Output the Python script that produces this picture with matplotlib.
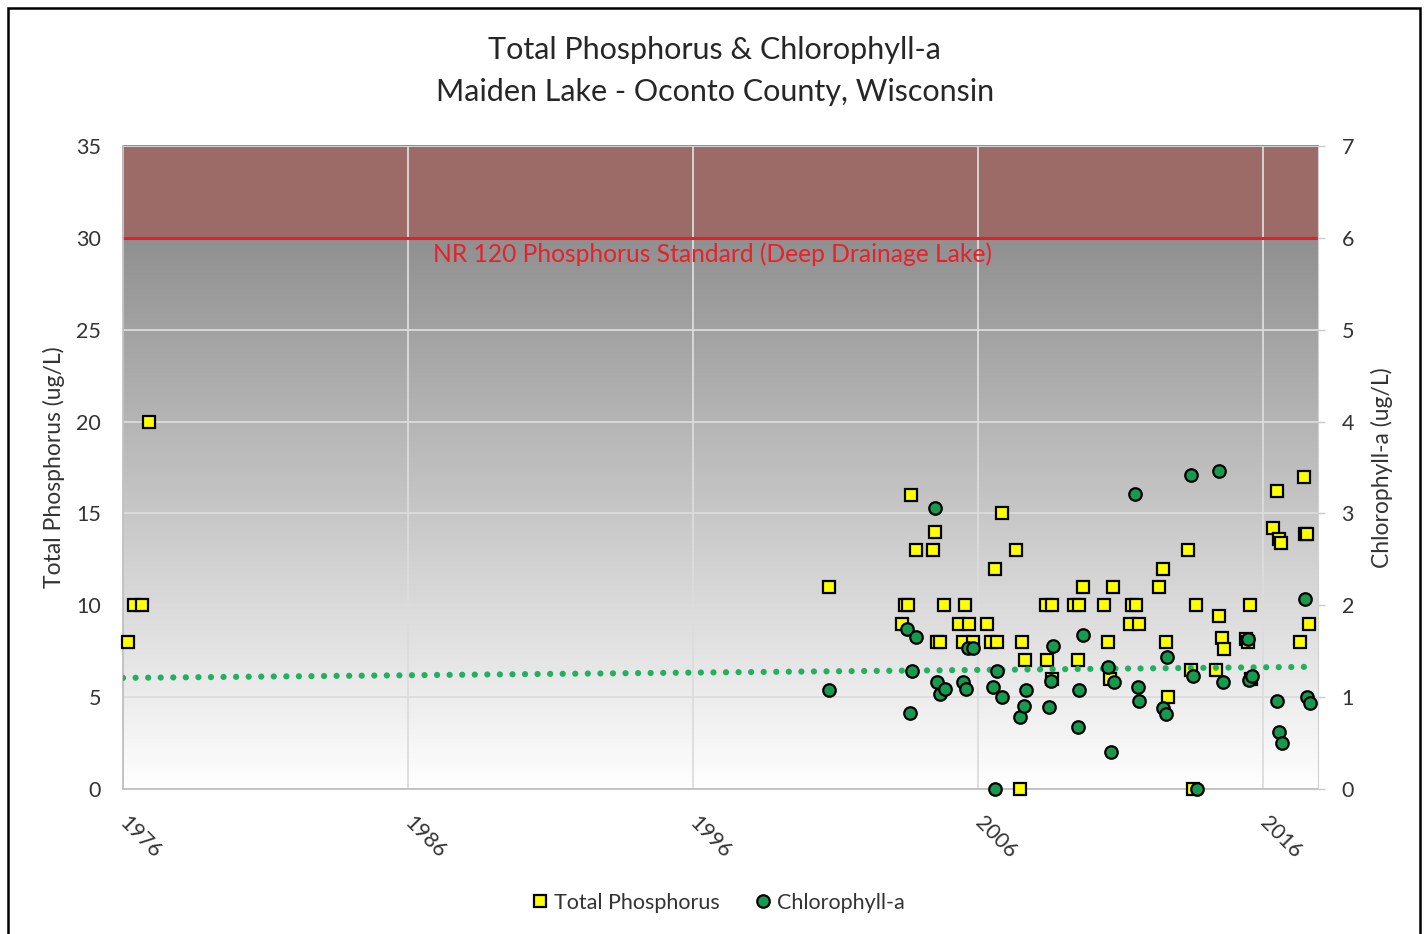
import matplotlib.pyplot as plt
import numpy as np
from matplotlib.colors import LinearSegmentedColormap
from matplotlib.lines import Line2D
from matplotlib.patches import Rectangle

plt.rcParams['font.family'] = ['Lato', 'DejaVu Sans']

# Total phosphorus samples (decimal year, ug/L)
tp_years = [1976.18, 1976.39, 1976.67, 1976.91, 2000.77,
            2003.35, 2003.44, 2003.55, 2003.66, 2003.82, 2004.41, 2004.49, 2004.56, 2004.67, 2004.80,
            2005.34, 2005.46, 2005.56, 2005.69, 2005.82, 2006.32, 2006.47, 2006.58, 2006.67, 2006.84,
            2007.33, 2007.49, 2007.55, 2007.66, 2008.40, 2008.41, 2008.58, 2008.60, 2009.37, 2009.52,
            2009.55, 2009.67, 2010.42, 2010.55, 2010.63, 2010.75, 2011.33, 2011.42, 2011.56, 2011.65,
            2012.35, 2012.50, 2012.60, 2012.66, 2013.38, 2013.47, 2013.53, 2013.65, 2014.35, 2014.47,
            2014.55, 2014.63, 2015.42, 2015.47, 2015.54, 2015.58, 2016.34, 2016.48, 2016.55, 2016.62,
            2017.30, 2017.45, 2017.48, 2017.55, 2017.62]
tp_values = [8, 10, 10, 20, 11,
             9, 10, 10, 16, 13, 13, 14, 8, 8, 10,
             9, 8, 10, 9, 8, 9, 8, 12, 8, 15,
             13, 0, 8, 7, 10, 7, 6, 10, 10, 7,
             10, 11, 10, 8, 6, 11, 9, 10, 10, 9,
             11, 12, 8, 5, 13, 6.5, 0, 10, 6.5, 9.4,
             8.2, 7.6, 8.15, 8.0, 10, 6, 14.2, 16.2, 13.6, 13.4,
             8, 17, 13.9, 13.9, 9]

# Chlorophyll-a samples (decimal year, ug/L)
chl_years = [2000.77, 2003.50, 2003.60, 2003.67, 2003.84, 2004.49, 2004.57, 2004.67, 2004.84,
             2005.48, 2005.58, 2005.66, 2005.84, 2006.53, 2006.60, 2006.68, 2006.85, 2007.49,
             2007.60, 2007.67, 2008.49, 2008.55, 2008.64, 2009.52, 2009.54, 2009.67, 2010.57,
             2010.65, 2010.78, 2011.51, 2011.60, 2011.65, 2012.48, 2012.60, 2012.64, 2013.47,
             2013.55, 2013.67, 2014.47, 2014.60, 2015.46, 2015.50, 2015.60, 2016.50, 2016.57,
             2016.66, 2017.47, 2017.55, 2017.65]
chl_values = [1.08, 1.74, 0.83, 1.29, 1.65, 3.06, 1.16, 1.03, 1.09,
              1.16, 1.09, 1.53, 1.54, 1.11, 0.0, 1.28, 1.00, 0.78,
              0.90, 1.08, 0.89, 1.18, 1.56, 0.68, 1.08, 1.68, 1.33,
              0.40, 1.16, 3.21, 1.11, 0.96, 0.88, 0.82, 1.44, 3.42,
              1.23, 0.0, 3.46, 1.17, 1.63, 1.19, 1.23, 0.96, 0.62,
              0.50, 2.07, 1.00, 0.94]

# linear trend of chlorophyll-a (end points)
trend_years = [1976.0, 2017.6]
trend_chl = [1.21, 1.33]

standard_tp = 30
x_ticks = [1976, 1986, 1996, 2006, 2016]
x_min, x_max = 1976.0, 2017.93

fig = plt.figure(figsize=(14.27, 9.34), dpi=100)
ax = fig.add_axes([0.0862, 0.1552, 0.8374, 0.6885])
ax2 = ax.twinx()

# background gradient and standard band
cmap = LinearSegmentedColormap.from_list('bg', ['#ffffff', '#7d7d7d'])
grad = np.linspace(0, 1, 256).reshape(-1, 1)
ax.imshow(grad, extent=[x_min, x_max, 0, 35], origin='lower', aspect='auto',
          cmap=cmap, zorder=0.1)
ax.axhspan(standard_tp, 35, facecolor='#9c6a67', edgecolor='#5d7fa8', lw=1.2,
           zorder=0.2, clip_on=False)
ax.set_axisbelow(True)
ax.grid(True, color='#dcdcdc', lw=1.3)
ax.axhline(standard_tp, color='#e0202a', lw=2.2, zorder=0.6)
ax.text(1996.67, 29.1, 'NR 120 Phosphorus Standard (Deep Drainage Lake)', color='#e8202a',
        fontsize=17.7, ha='center', va='center')

ax.plot(tp_years, tp_values, ls='none', marker='s', ms=8.5, mfc='#ffff00', mec='black',
        mew=1.6, clip_on=False, zorder=3)

ax2.plot(trend_years, trend_chl, color='#22b060', lw=4.5, ls=(0, (0.01, 2.0)),
         dash_capstyle='round', zorder=2)
ax2.plot(chl_years, chl_values, ls='none', marker='o', ms=9, mfc='#169a4e', mec='black',
         mew=1.6, clip_on=False, zorder=3)

ax.set_xlim(x_min, x_max)
ax.set_ylim(0, 35)
ax2.set_ylim(0, 7)
ax.set_yticks(range(0, 36, 5))
ax2.set_yticks(range(0, 8))
ax.set_xticks(x_ticks)
ax.set_xticklabels([str(t) for t in x_ticks], rotation=-45, ha='left', va='center',
                   rotation_mode='anchor')

ax.tick_params(axis='x', length=0, pad=22, labelsize=15.5, labelcolor='#333333')
ax.tick_params(axis='y', length=0, pad=16, labelsize=15.5, labelcolor='#333333')
ax2.tick_params(axis='y', length=5, width=1, color='#c8c8c8', pad=12, labelsize=15.5,
                labelcolor='#333333')

for s in ['top', 'right']:
    ax.spines[s].set_visible(False)
for s in ['left', 'bottom']:
    ax.spines[s].set_color('#bfbfbf')
    ax.spines[s].set_linewidth(1.3)
for s in ['top', 'left', 'bottom']:
    ax2.spines[s].set_visible(False)
ax2.spines['right'].set_color('#d0d0d0')

ax.set_ylabel('Total Phosphorus (ug/L)', fontsize=16.5, color='#333333', labelpad=8)
ax2.set_ylabel('Chlorophyll-a (ug/L)', fontsize=16.5, color='#333333', labelpad=12)

fig.text(0.501, 1 - 50 / 934, 'Total Phosphorus & Chlorophyll-a', fontsize=22,
         ha='center', va='center', color='#262626')
fig.text(0.501, 1 - 92 / 934, 'Maiden Lake - Oconto County, Wisconsin', fontsize=22,
         ha='center', va='center', color='#262626')

handles = [Line2D([], [], ls='none', marker='s', ms=8.5, mfc='#ffff00', mec='black', mew=1.6),
           Line2D([], [], ls='none', marker='o', ms=9, mfc='#169a4e', mec='black', mew=1.6)]
fig.legend(handles, ['Total Phosphorus', 'Chlorophyll-a'], loc='center',
           bbox_to_anchor=(718 / 1427, 1 - 903 / 934), ncol=2, frameon=False,
           fontsize=15.5, handlelength=0.8, handletextpad=0.25, columnspacing=1.6,
           labelcolor='#333333')

fig.patches.append(Rectangle((8 / 1427, -0.05), 1412 / 1427, 0.05 + 1 - 8 / 934,
                             transform=fig.transFigure, fill=False, edgecolor='black', lw=1.8))

plt.savefig('out.png', dpi=100)
